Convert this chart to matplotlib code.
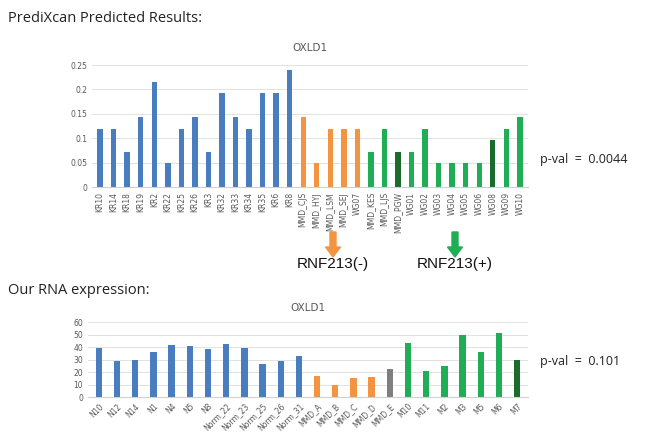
import matplotlib
matplotlib.use("Agg")
import matplotlib.pyplot as plt
from matplotlib.patches import FancyArrow

# ==============================
# DATA
# ==============================
top_labels = ["KR10", "KR14", "KR18", "KR19", "KR2", "KR22", "KR25", "KR26", "KR3", "KR32",
              "KR33", "KR34", "KR35", "KR6", "KR8", "MMD_CJS", "MMD_HYJ", "MMD_LSM", "MMD_SEJ",
              "WG07", "MMD_KES", "MMD_LJS", "MMD_PGW", "WG01", "WG02", "WG03", "WG04", "WG05",
              "WG06", "WG08", "WG09", "WG10"]
top_values = [0.12, 0.12, 0.072, 0.144, 0.216, 0.05, 0.12, 0.144, 0.072, 0.192,
              0.144, 0.12, 0.192, 0.192, 0.24, 0.144, 0.05, 0.12, 0.12,
              0.12, 0.072, 0.12, 0.072, 0.072, 0.12, 0.05, 0.05, 0.05,
              0.05, 0.096, 0.12, 0.144]
top_groups = ["b"] * 15 + ["o"] * 5 + ["g", "g", "d", "g", "g", "g", "g", "g", "g", "d", "g", "g"]

bot_labels = ["N10", "N12", "N14", "N1", "N4", "N5", "N8", "Norm_22", "Norm_23", "Norm_25",
              "Norm_26", "Norm_31", "MMD_A", "MMD_B", "MMD_C", "MMD_D", "MMD_E",
              "M10", "M11", "M2", "M3", "M5", "M6", "M7"]
bot_values = [39, 28.5, 30, 36, 42, 41, 38.5, 42.5, 39, 26.5,
              29, 32.5, 17, 9.5, 15, 16, 22.5,
              43, 21, 25, 50, 36, 51.5, 30]
bot_groups = ["b"] * 12 + ["o"] * 4 + ["k"] + ["g"] * 6 + ["d"]

colors = {"b": "#4a7cc0", "o": "#f39443", "g": "#1fae55", "d": "#1b6b2c", "k": "#7f7f7f"}

# ==============================
# FIGURE
# ==============================
fig = plt.figure(figsize=(6.58, 4.37), dpi=100)
fig.patch.set_facecolor("white")
head_font = ["Open Sans", "DejaVu Sans"]


def style_axes(ax):
    for s in ["top", "right", "left"]:
        ax.spines[s].set_visible(False)
    ax.spines["bottom"].set_color("#d0d0d0")
    ax.grid(axis="y", color="#e2e2e2", linewidth=0.7)
    ax.set_axisbelow(True)
    ax.tick_params(length=0, labelsize=5.5, colors="#595959")


# top chart
ax1 = fig.add_axes([0.1398, 0.572, 0.6626, 0.279])
x1 = range(len(top_labels))
ax1.bar(x1, top_values, width=0.4, color=[colors[g] for g in top_groups])
ax1.set_xlim(-0.6, len(top_labels) - 0.4)
ax1.set_ylim(0, 0.25)
ax1.set_yticks([0, 0.05, 0.1, 0.15, 0.2, 0.25])
ax1.set_yticklabels(["0", "0.05", "0.1", "0.15", "0.2", "0.25"])
ax1.set_xticks(list(x1))
ax1.set_xticklabels(top_labels, rotation=90)
style_axes(ax1)
ax1.set_title("OXLD1", fontsize=7.5, color="#595959", pad=10)

# bottom chart
ax2 = fig.add_axes([0.1337, 0.0915, 0.6687, 0.1716])
x2 = range(len(bot_labels))
ax2.bar(x2, bot_values, width=0.35, color=[colors[g] for g in bot_groups])
ax2.set_xlim(-0.6, len(bot_labels) - 0.4)
ax2.set_ylim(0, 60)
ax2.set_yticks([0, 10, 20, 30, 40, 50, 60])
ax2.set_xticks(list(x2))
ax2.set_xticklabels(bot_labels, rotation=45, ha="right", rotation_mode="anchor")
style_axes(ax2)
ax2.set_title("OXLD1", fontsize=7.5, color="#595959", pad=8)

# headings and notes
fig.text(8 / 658, 1 - 18 / 437, "PrediXcan Predicted Results:", fontsize=10.5,
         family=head_font, va="center", ha="left", color="#222222")
fig.text(8 / 658, 1 - 290 / 437, "Our RNA expression:", fontsize=10.5,
         family=head_font, va="center", ha="left", color="#222222")
fig.text(540 / 658, 1 - 160 / 437, "p-val  =  0.0044", fontsize=9,
         family=head_font, va="center", ha="left", color="#222222")
fig.text(540 / 658, 1 - 362 / 437, "p-val  =  0.101", fontsize=9,
         family=head_font, va="center", ha="left", color="#222222")

# arrows
for xa, col, txt in [(333, colors["o"], "RNF213(-)"), (455, colors["g"], "RNF213(+)")]:
    arr = FancyArrow(xa / 100, (437 - 232) / 100, 0, -0.25, width=0.06, head_width=0.15,
                     head_length=0.1, length_includes_head=True, color=col,
                     transform=fig.dpi_scale_trans)
    fig.patches.append(arr)
    fig.text(xa / 658, 1 - 264 / 437, txt, fontsize=11, family=["Liberation Sans", "DejaVu Sans"],
             ha="center", va="center", color="#111111")

fig.savefig("out.png", dpi=100)
